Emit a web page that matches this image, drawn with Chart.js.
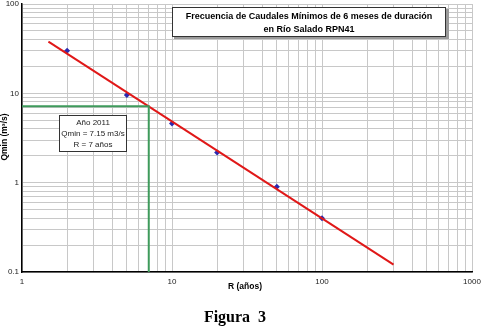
<!DOCTYPE html>
<html>
<head>
<meta charset="utf-8">
<script src="https://cdn.jsdelivr.net/npm/chart.js@4/dist/chart.umd.min.js"></script>
<style>
  body { margin: 0; background: #fff; }
  canvas { display: block; }
</style>
</head>
<body>
<canvas id="chartCaudales" width="481" height="330"></canvas>
<script>
// Datos
const periodos = [2, 5, 10, 20, 50, 100];
const caudales = [30, 9.6, 4.6, 2.18, 0.9, 0.4];
const ajusteR = [1.5, 300];
const ajusteQ = [38, 0.121];
const diseñoR = [1, 7, 7];
const diseñoQ = [7.15, 7.15, 0.1];
const ticksX = [1, 10, 100, 1000];
const ticksY = [0.1, 1, 10, 100];

function puntos(xs, ys) {
  return xs.map(function (x, i) { return { x: x, y: ys[i] }; });
}

// todas las lineas 1..9 por decada
function ticksLog(min, max) {
  var out = [];
  for (var d = min; d < max; d *= 10) {
    for (var k = 1; k < 10; k++) out.push({ value: +(d * k).toPrecision(6) });
  }
  out.push({ value: max });
  return out;
}

function esPotencia(v, lista) {
  return lista.some(function (t) { return Math.abs(t - v) < 1e-9; });
}

// textos y cajas
const textos = {
  id: "textos",
  afterDraw: function (chart) {
    const ctx = chart.ctx;
    ctx.save();

    // titulo
    ctx.fillStyle = "#9a9a9a";
    ctx.fillRect(174, 9, 275, 30);
    ctx.fillStyle = "#fff";
    ctx.fillRect(172, 7, 274, 30);
    ctx.strokeStyle = "#333";
    ctx.lineWidth = 1;
    ctx.strokeRect(172.5, 7.5, 273, 29);
    ctx.fillStyle = "#000";
    ctx.font = "bold 9px 'Liberation Sans', Arial, sans-serif";
    ctx.textAlign = "center";
    ctx.textBaseline = "middle";
    ctx.fillText("Frecuencia de Caudales Mínimos de 6 meses de duración", 309, 17);
    ctx.fillText("en Río Salado RPN41", 309, 30);

    // anotacion
    ctx.fillStyle = "#fff";
    ctx.fillRect(59, 115, 68, 37);
    ctx.strokeStyle = "#333";
    ctx.strokeRect(59.5, 115.5, 67, 36);
    ctx.fillStyle = "#222";
    ctx.font = "8px 'Liberation Sans', Arial, sans-serif";
    ctx.fillText("Año 2011", 93, 123);
    ctx.fillText("Qmin = 7.15 m3/s", 93, 134);
    ctx.fillText("R = 7 años", 93, 145);

    // titulos de ejes
    ctx.fillStyle = "#000";
    ctx.font = "bold 8.5px 'Liberation Sans', Arial, sans-serif";
    ctx.fillText("R (años)", 245, 287);
    ctx.save();
    ctx.translate(5, 137);
    ctx.rotate(-Math.PI / 2);
    ctx.fillText("Qmin (m³/s)", 0, 0);
    ctx.restore();

    // pie de figura
    ctx.font = "bold 16px 'Liberation Serif', 'Times New Roman', serif";
    ctx.fillText("Figura  3", 235, 318);
    ctx.restore();
  }
};

const ctxCaudales = document.getElementById("chartCaudales").getContext("2d");

const chartCaudales = new Chart(ctxCaudales, {
  type: "scatter",
  data: {
    datasets: [
      {
        label: "Diseño",
        data: puntos(diseñoR, diseñoQ),
        showLine: true,
        borderColor: "#3f9b5c",
        borderWidth: 2,
        pointRadius: 0,
        fill: false,
      },
      {
        label: "Ajuste",
        data: puntos(ajusteR, ajusteQ),
        showLine: true,
        borderColor: "#e01818",
        borderWidth: 2,
        pointRadius: 0,
        fill: false,
      },
      {
        label: "Observado",
        data: puntos(periodos, caudales),
        pointStyle: "rectRot",
        pointRadius: 3,
        backgroundColor: "#2a2ab0",
        borderColor: "#2a2ab0",
        borderWidth: 0,
      },
    ],
  },
  options: {
    responsive: false,
    animation: false,
    layout: { padding: { top: 2, right: 9, left: 0, bottom: 0 } },
    plugins: {
      legend: { display: false },
      tooltip: { enabled: false },
    },
    scales: {
      x: {
        type: "logarithmic",
        min: 1,
        max: 1000,
        afterBuildTicks: function (scale) { scale.ticks = ticksLog(1, 1000); },
        afterFit: function (scale) {
          scale.height = 58;
          scale.paddingLeft = 0;
          scale.paddingRight = 0;
        },
        grid: { color: "#c8c8c8", lineWidth: 1, tickLength: 4, drawTicks: false },
        border: { color: "#000", width: 1.5 },
        ticks: {
          autoSkip: false,
          maxRotation: 0,
          padding: 5,
          color: "#222",
          font: { family: "'Liberation Sans', Arial, sans-serif", size: 8 },
          callback: function (v) { return esPotencia(v, ticksX) ? String(v) : ""; },
        },
      },
      y: {
        type: "logarithmic",
        min: 0.1,
        max: 100,
        afterBuildTicks: function (scale) { scale.ticks = ticksLog(0.1, 100); },
        afterFit: function (scale) {
          scale.width = 22;
          scale.paddingTop = 0;
          scale.paddingBottom = 0;
        },
        grid: { color: "#c8c8c8", lineWidth: 1, tickLength: 3, drawTicks: false },
        border: { color: "#000", width: 1.5 },
        ticks: {
          autoSkip: false,
          padding: 3,
          color: "#222",
          font: { family: "'Liberation Sans', Arial, sans-serif", size: 8 },
          callback: function (v) { return esPotencia(v, ticksY) ? String(v) : ""; },
        },
      },
    },
  },
  plugins: [textos],
});
</script>
</body>
</html>
